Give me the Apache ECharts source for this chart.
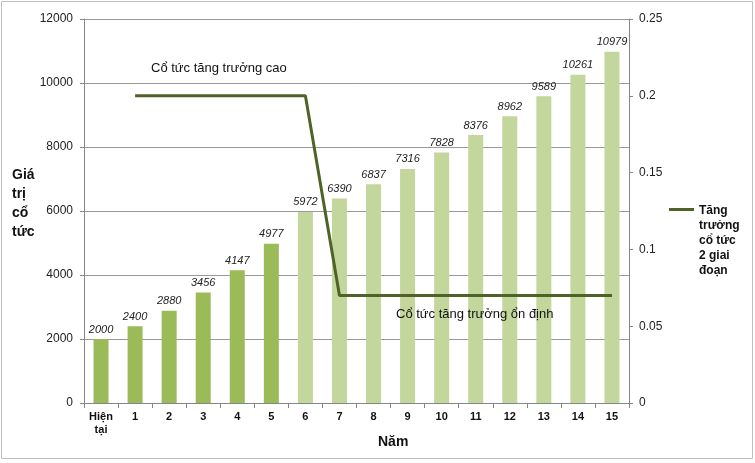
<!DOCTYPE html>
<html><head><meta charset="utf-8">
<script src="https://cdn.jsdelivr.net/npm/echarts@6/dist/echarts.min.js"></script>
<style>html,body{margin:0;padding:0;background:#fff}#c{width:755px;height:463px}</style>
</head><body><div id="c"></div>
<script>
const categories = ['Hiện\ntại','1','2','3','4','5','6','7','8','9','10','11','12','13','14','15'];
const dividendValues = [2000,2400,2880,3456,4147,4977,5972,6390,6837,7316,7828,8376,8962,9589,10261,10979];
const growthRates = [null,0.2,0.2,0.2,0.2,0.2,0.2,0.07,0.07,0.07,0.07,0.07,0.07,0.07,0.07,0.07];
const highPhaseCount = 6;
const leftTicks = {min:0,max:12000,interval:2000};
const rightTicks = {min:0,max:0.25,interval:0.05};

const chart = echarts.init(document.getElementById('c'));
const font = '"Liberation Sans", Arial, sans-serif';
chart.setOption({
  animation:false,
  textStyle:{fontFamily:font},
  grid:{left:84,right:126,top:19,bottom:60},
  legend:{
    show:true, orient:'vertical', left:669, top:202, padding:0,
    itemWidth:25, itemHeight:78,
    icon:'path://M0,6L25,6L25,9L0,9Z M0,0L0,0 M0,78L0,78',
    data:[{name:'Tăng trưởng cổ tức 2 giai đoạn'}],
    formatter:()=> 'Tăng\ntrưởng\ncổ tức\n2 giai\nđoạn',
    itemGap:0,
    itemStyle:{borderWidth:0},
    textStyle:{fontFamily:font,fontWeight:'bold',fontSize:12,color:'#111',lineHeight:15}
  },
  xAxis:{
    type:'category', data:categories,
    axisLine:{lineStyle:{color:'#868686'}},
    axisTick:{show:true,length:5,lineStyle:{color:'#868686'}},
    axisLabel:{fontFamily:font,fontWeight:'bold',fontSize:11,color:'#111',margin:7,interval:0,lineHeight:13}
  },
  yAxis:[
    {type:'value', min:leftTicks.min, max:leftTicks.max, interval:leftTicks.interval,
     axisLine:{show:true,lineStyle:{color:'#868686'}},
     axisTick:{show:true,length:4,lineStyle:{color:'#868686'}},
     splitLine:{lineStyle:{color:'#9a9a9a'}},
     axisLabel:{fontFamily:font,fontSize:12,color:'#222',margin:11,formatter:v=>String(v)}},
    {type:'value', min:rightTicks.min, max:rightTicks.max, interval:rightTicks.interval,
     position:'right',
     axisLine:{show:true,lineStyle:{color:'#868686'}},
     axisTick:{show:true,length:4,lineStyle:{color:'#868686'}},
     splitLine:{show:false},
     axisLabel:{fontFamily:font,fontSize:12,color:'#222',margin:10,formatter:v=>String(+v.toFixed(2))}}
  ],
  series:[
    {type:'bar', name:'Giá trị cổ tức', barWidth:15, yAxisIndex:0,
     data:dividendValues.map((v,i)=>({value:v,itemStyle:{color:i<highPhaseCount?'#9BBB59':'#C3D69B'}})),
     label:{show:true,position:'top',distance:4,fontFamily:font,fontStyle:'italic',fontSize:11,color:'#222'}},
    {type:'line', name:'Tăng trưởng cổ tức 2 giai đoạn', yAxisIndex:1, data:growthRates,
     symbol:'none', lineStyle:{color:'#4F6228',width:3}, itemStyle:{color:'#4F6228'}}
  ],
  graphic:[
    {type:'rect',shape:{x:1.5,y:1.5,width:751,height:457},style:{fill:'none',stroke:'#BFBFBF',lineWidth:1},silent:true},
    {type:'text',left:12,top:166,z:100,style:{text:'Giá\ntrị\ncổ\ntức',font:'bold 14px '+font,fill:'#111',lineHeight:19}},
    {type:'text',left:378,top:435,z:100,style:{text:'Năm',font:'bold 14px '+font,fill:'#111'}},
    {type:'text',left:151,top:62,z:100,style:{text:'Cổ tức tăng trưởng cao',font:'13px '+font,fill:'#111'}},
    {type:'text',left:396,top:308,z:100,style:{text:'Cổ tức tăng trưởng ổn định',font:'13px '+font,fill:'#111'}}
  ]
});
</script></body></html>
